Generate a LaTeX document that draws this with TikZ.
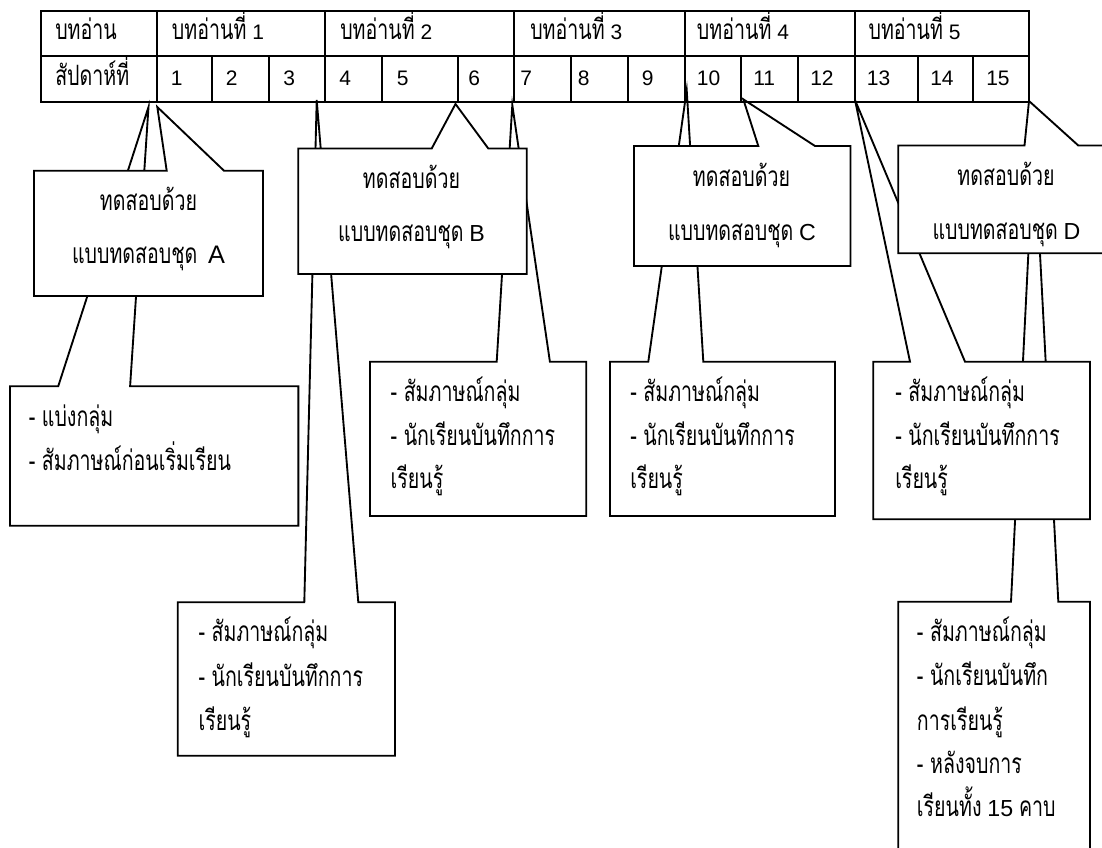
\documentclass[tikz,border=0pt]{standalone}
\usepackage{fontspec}
\setmainfont{Liberation Sans}
\newfontfamily\thaifont[Script=Thai, FakeStretch=0.7]{Loma}
\newcommand{\tf}[1]{{\thaifont\fontsize{21}{22}\selectfont #1}}
\newcommand{\biglat}[1]{{\fontsize{17.4}{19}\selectfont #1}}
\newcommand{\mkcallout}[8]{%
  \draw[callout] (#1,#2) -- (#5,#2) -- (#7,#8) -- (#6,#2) -- (#3,#2) -- (#3,#4) -- (#1,#4) -- cycle;}
\tikzset{
  callout/.style={draw=black, fill=white, line width=1.4pt, line join=miter},
  tbl/.style={draw=black, line width=1.4pt},
  lbl/.style={inner sep=0pt, anchor=base west},
  ctr/.style={inner sep=0pt, anchor=base},
  every node/.append style={font=\fontsize{15.75}{19}\selectfont}
}
\begin{document}
\begin{tikzpicture}[x=0.75pt,y=-0.75pt]
\path[use as bounding box, fill=white] (0,0) rectangle (1102,847);
\clip (0,0) rectangle (1102,847);

% lower callouts (drawn first)
\mkcallout{10}{386.3}{298.4}{525.8}{58.2}{130.1}{148.5}{107}     % E
\mkcallout{177.7}{602.3}{395}{755.7}{304.3}{358.3}{316.7}{100}   % F
\mkcallout{370}{361.7}{586.3}{516}{496.7}{549.9}{512.3}{105}     % G
\mkcallout{610}{361.7}{835}{516}{648.3}{703.3}{686.7}{90}        % H
\mkcallout{898.3}{601.7}{1090}{870}{1011}{1058.3}{1034}{140}     % J
\mkcallout{873.3}{361.7}{1090}{519.3}{910}{965}{855}{100}        % I
% upper callouts
\mkcallout{34}{170.7}{263}{296}{166.7}{224}{157.3}{107}          % A
\mkcallout{298.2}{148.5}{526.8}{274}{431.7}{488.3}{455.5}{104}   % B
\mkcallout{634}{146}{850.5}{266}{758.3}{815}{743.3}{99.3}        % C
\mkcallout{898.3}{145.5}{1114}{253.3}{1024.5}{1078.3}{1029}{101} % D

% table
\draw[tbl] (40.7,11) rectangle (1029.3,101.7);
\draw[tbl] (40.7,56) -- (1029.3,56);
\foreach \x in {156.7,324.7,514.3,685.3,855} \draw[tbl] (\x,11) -- (\x,101.7);
\foreach \x in {212.3,269,382,457.7,571,628,741,798.3,918.3,973.3} \draw[tbl] (\x,56) -- (\x,101.7);

% table text
\node[lbl] (hd0) at (55,39) {\tf{บทอ่าน}};
\node[lbl] (hd1) at (171.7,39) {\tf{บทอ่านที่} 1};
\node[lbl] (hd2) at (340,39) {\tf{บทอ่านที่} 2};
\node[lbl] (hd3) at (530,39) {\tf{บทอ่านที่} 3};
\node[lbl] (hd4) at (696.7,39) {\tf{บทอ่านที่} 4};
\node[lbl] (hd5) at (868.3,39) {\tf{บทอ่านที่} 5};
\node[lbl] (wk0) at (55,85) {\tf{สัปดาห์ที่}};
\node[lbl] (wk1) at (170.7,85) {1};
\node[lbl] (wk2) at (225.7,85) {2};
\node[lbl] (wk3) at (283,85) {3};
\node[lbl] (wk4) at (339,85) {4};
\node[lbl] (wk5) at (396.7,85) {5};
\node[lbl] (wk6) at (468,85) {6};
\node[lbl] (wk7) at (520,85) {7};
\node[lbl] (wk8) at (577.7,85) {8};
\node[lbl] (wk9) at (641.7,85) {9};
\node[lbl] (wk10) at (696.7,85) {10};
\node[lbl] (wk11) at (753,85) {11};
\node[lbl] (wk12) at (810,85) {12};
\node[lbl] (wk13) at (866.7,85) {13};
\node[lbl] (wk14) at (930,85) {14};
\node[lbl] (wk15) at (986,85) {15};

% upper callout text
\node[ctr] (a1) at (148.5,210.5) {\tf{ทดสอบด้วย}};
\node[ctr] (a2) at (148.5,263.3) {\tf{แบบทดสอบชุด}\hspace{8pt}{\fontsize{19}{19}\selectfont A}};
\node[ctr] (b1) at (411.5,188.3) {\tf{ทดสอบด้วย}};
\node[ctr] (b2) at (411.5,241.7) {\tf{แบบทดสอบชุด} \biglat{B}};
\node[ctr] (c1) at (741.5,186.7) {\tf{ทดสอบด้วย}};
\node[ctr] (c2) at (742,240) {\tf{แบบทดสอบชุด} \biglat{C}};
\node[ctr] (d1) at (1006,185) {\tf{ทดสอบด้วย}};
\node[ctr] (d2) at (1006.5,239) {\tf{แบบทดสอบชุด} \biglat{D}};

% lower callout text
\node[lbl] (e1) at (28.5,426.5) {\tf{- แบ่งกลุ่ม}};
\node[lbl] (e2) at (28.5,470) {\tf{- สัมภาษณ์ก่อนเริ่มเรียน}};
\node[lbl] (g1) at (390.4,401.7) {\tf{- สัมภาษณ์กลุ่ม}};
\node[lbl] (g2) at (390.4,445) {\tf{- นักเรียนบันทึกการ}};
\node[lbl] (g3) at (390.4,488.3) {\tf{เรียนรู้}};
\node[lbl] (h1) at (630,401.7) {\tf{- สัมภาษณ์กลุ่ม}};
\node[lbl] (h2) at (630,445) {\tf{- นักเรียนบันทึกการ}};
\node[lbl] (h3) at (630,488.3) {\tf{เรียนรู้}};
\node[lbl] (i1) at (895,401.7) {\tf{- สัมภาษณ์กลุ่ม}};
\node[lbl] (i2) at (895,445) {\tf{- นักเรียนบันทึกการ}};
\node[lbl] (i3) at (895,488.3) {\tf{เรียนรู้}};
\node[lbl] (f1) at (198.3,641.7) {\tf{- สัมภาษณ์กลุ่ม}};
\node[lbl] (f2) at (198.3,686.7) {\tf{- นักเรียนบันทึกการ}};
\node[lbl] (f3) at (198.3,730) {\tf{เรียนรู้}};
\node[lbl] (j1) at (916.7,641.7) {\tf{- สัมภาษณ์กลุ่ม}};
\node[lbl] (j2) at (916.7,685) {\tf{- นักเรียนบันทึก}};
\node[lbl] (j3) at (916.7,730) {\tf{การเรียนรู้}};
\node[lbl] (j4) at (916.7,773.3) {\tf{- หลังจบการ}};
\node[lbl] (j5) at (916.7,816.7) {\tf{เรียนทั้ง} \biglat{15} \tf{คาบ}};
\end{tikzpicture}
\end{document}
